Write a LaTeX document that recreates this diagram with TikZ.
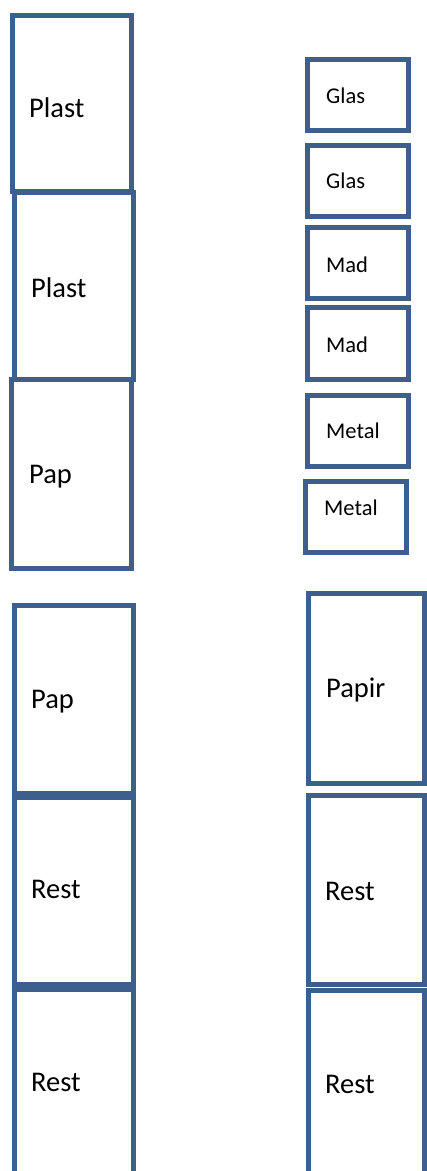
\documentclass[tikz,border=0pt]{standalone}
\usepackage{fontspec}
\setmainfont{Carlito}
\usetikzlibrary{fit}
\definecolor{boxblue}{RGB}{60,95,142}
\tikzset{
  bin/.style={draw=boxblue, line width=5pt, fill=white, inner sep=0pt, rectangle},
  big/.style={anchor=base west, inner sep=0pt, font=\fontsize{28.5}{30}\selectfont, text=black},
  small/.style={anchor=base west, inner sep=0pt, font=\fontsize{22.5}{24}\selectfont, text=black}
}
\begin{document}
\begin{tikzpicture}[x=1pt,y=-1pt]
\useasboundingbox (0,0) rectangle (427,1171);
\clip (0,0) rectangle (427,1171);
% left column
\node[bin, fit={(12,15) (131,191)}] (plast1) {};
\node[bin, fit={(14,192) (133,379)}] (plast2) {};
\node[bin, fit={(11,379) (131,568)}] (pap1) {};
\node[bin, fit={(14,605) (133,793)}] (pap2) {};
\node[bin, fit={(14,797) (133,984)}] (rest1) {};
\node[bin, fit={(14,989) (133,1185)}] (rest2) {};
% right column
\node[bin, fit={(307,59) (408,130)}] (glas1) {};
\node[bin, fit={(307,145) (408,216)}] (glas2) {};
\node[bin, fit={(307,227) (408,298)}] (mad1) {};
\node[bin, fit={(307,307) (408,379)}] (mad2) {};
\node[bin, fit={(307,395) (408,466)}] (metal1) {};
\node[bin, fit={(305,481) (406,552)}] (metal2) {};
\node[bin, fit={(308,593) (424.5,783)}] (papir) {};
\node[bin, fit={(308,795) (424.5,984)}] (restr1) {};
\node[bin, fit={(308,990) (424.5,1185)}] (restr2) {};
% labels
\node[big] (tplast1) at (29,117) {Plast};
\node[big] (tplast2) at (31,297) {Plast};
\node[big] (tpap1) at (29,483) {Pap};
\node[big] (tpap2) at (31,708) {Pap};
\node[big] (trest1) at (31,898) {Rest};
\node[big] (trest2) at (31,1091) {Rest};
\node[small] (tglas1) at (326,103) {Glas};
\node[small] (tglas2) at (326,188) {Glas};
\node[small] (tmad1) at (326,272) {Mad};
\node[small] (tmad2) at (326,352) {Mad};
\node[small] (tmetal1) at (326,438) {Metal};
\node[small] (tmetal2) at (324,515) {Metal};
\node[big] (tpapir) at (326,697) {Papir};
\node[big] (trestr1) at (325,900) {Rest};
\node[big] (trestr2) at (325,1093) {Rest};
\end{tikzpicture}
\end{document}
